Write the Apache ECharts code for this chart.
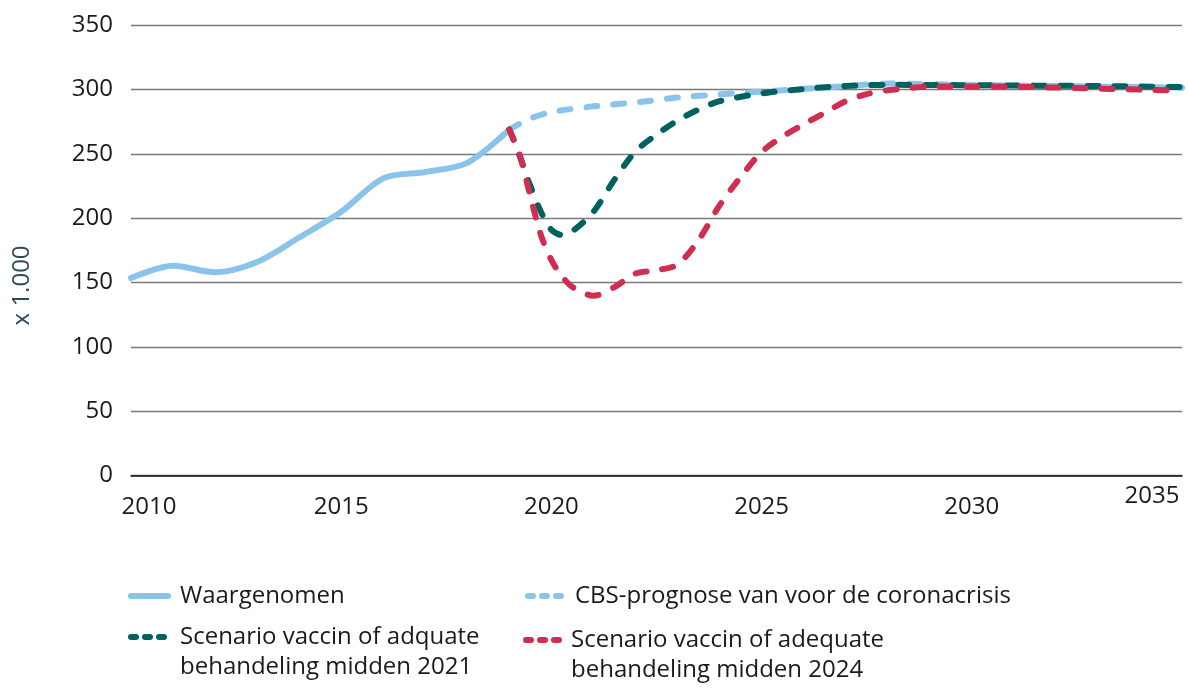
<!DOCTYPE html>
<html>
<head>
<meta charset="utf-8">
<script src="https://cdn.jsdelivr.net/npm/echarts@6/dist/echarts.min.js"></script>
<style>html,body{margin:0;padding:0;background:#fff;}#c{width:1188px;height:689px;}</style>
</head>
<body>
<div id="c"></div>
<script>
// ---- data ----
const observedYears = [2010, 2011, 2012, 2013, 2014, 2015, 2016, 2017, 2018, 2019];
const observedValues = [153.5, 163, 158, 166, 185, 205, 231, 236, 243, 269];

const cbsYears = [2019, 2019.5, 2020, 2021, 2022, 2023, 2024, 2025, 2026, 2027, 2028, 2029, 2030, 2031, 2032, 2033, 2034, 2035];
const cbsValues = [269, 277.5, 282.5, 287, 290, 293.8, 296.3, 298.5, 300.6, 302.7, 304.7, 304.3, 303.6, 303.2, 302.8, 302.4, 302, 301.5];

const scen2021Years = [2019, 2019.25, 2019.5, 2019.75, 2020, 2020.25, 2020.5, 2021, 2021.5, 2022, 2022.5, 2023, 2023.5, 2024, 2025, 2026, 2027, 2028, 2029, 2030, 2031, 2032, 2033, 2034, 2035];
const scen2021Values = [269, 248, 225, 205, 191, 187, 190, 205, 230, 252, 265, 276, 284.5, 291, 297, 300.5, 302.8, 303.7, 303.6, 303.4, 303.2, 303, 302.8, 302.4, 302];

const scen2024Years = [2019, 2019.25, 2019.5, 2019.75, 2020, 2020.25, 2020.5, 2021, 2021.5, 2022, 2022.5, 2023, 2023.5, 2024, 2024.5, 2025, 2025.5, 2026, 2026.5, 2027, 2027.5, 2028, 2029, 2030, 2031, 2032, 2033, 2034, 2035];
const scen2024Values = [269, 249, 217, 187, 167.5, 155, 146.5, 139.8, 146.5, 157, 159.5, 164, 183, 210, 232, 251.5, 263.5, 273, 282, 291, 296.5, 299.5, 302.3, 302.5, 302.2, 301.6, 300.8, 300, 299.3];

const seriesNames = [
  'Waargenomen',
  'CBS-prognose van voor de coronacrisis',
  'Scenario vaccin of adquate\nbehandeling midden 2021',
  'Scenario vaccin of adequate\nbehandeling midden 2024'
];
const yAxisName = 'x 1.000';

// ---- styling ----
const FONT = '"Open Sans", "Noto Sans", sans-serif';
const C_OBS = '#8ac4ea';
const C_TEAL = '#00625e';
const C_RED = '#d02e50';
const DASH = [11, 16];

const pairs = (xs, ys) => xs.map((x, i) => [x, ys[i]]);

const chart = echarts.init(document.getElementById('c'));

function legendFor(name, left, top, color, solid, padLeft, twoLine) {
  return {
    data: [name],
    left: left,
    top: top,
    padding: 0,
    orient: 'horizontal',
    itemWidth: solid ? 37 : 36,
    itemHeight: 14,
    selectedMode: false,
    formatter: twoLine ? function (n) { return ' \n' + n; } : undefined,
    lineStyle: solid ? { width: 6, type: 'solid', cap: 'round', color: color }
                     : { width: 6, type: [5, 9], cap: 'round', color: color },
    itemStyle: { opacity: 0 },
    textStyle: {
      fontFamily: FONT,
      fontSize: 24,
      color: '#1a1a1a',
      lineHeight: 30,
      padding: [0, 0, 0, padLeft]
    }
  };
}

const option = {
  animation: false,
  backgroundColor: '#fff',
  grid: { left: 131, right: 6, top: 25.3, bottom: 213.5, containLabel: false },
  xAxis: {
    type: 'value',
    min: 2010,
    max: 2035,
    interval: 5,
    axisLine: { show: true, lineStyle: { color: '#111', width: 1.5 } },
    axisTick: { show: false },
    splitLine: { show: false },
    axisLabel: {
      margin: 9,
      formatter: function (v) {
        if (v === 2010) return '{f|2010}';
        if (v === 2035) return '{l|2035}';
        return '{n|' + v + '}';
      },
      rich: {
        n: { fontFamily: FONT, fontSize: 24, color: '#1a1a1a', padding: [11, 0, 0, 0] },
        f: { fontFamily: FONT, fontSize: 24, color: '#1a1a1a', padding: [11, 0, 0, 36] },
        l: { fontFamily: FONT, fontSize: 24, color: '#1a1a1a', padding: [0, 60, 0, 0] }
      }
    }
  },
  yAxis: {
    type: 'value',
    min: 0,
    max: 350,
    interval: 50,
    name: yAxisName,
    nameLocation: 'middle',
    nameRotate: 90,
    nameGap: 97,
    nameTextStyle: { fontFamily: FONT, fontSize: 24, color: '#2c4a5c', padding: [0, 70, 0, 0] },
    axisLine: { show: false },
    axisTick: { show: false },
    axisLabel: { margin: 18, fontFamily: FONT, fontSize: 24, color: '#1a1a1a' },
    splitLine: { show: true, lineStyle: { color: '#7a7a7a', width: 1.3 } }
  },
  legend: [
    legendFor(seriesNames[0], 128, 581, C_OBS, true, 7, false),
    legendFor(seriesNames[1], 525, 581, C_OBS, false, 6, false),
    legendFor(seriesNames[2], 128, 592, C_TEAL, false, 8, true),
    legendFor(seriesNames[3], 523, 595, C_RED, false, 4, true)
  ],
  series: [
    {
      name: seriesNames[0], type: 'line', data: pairs(observedYears, observedValues),
      smooth: 0.3, symbol: 'none', z: 2,
      lineStyle: { color: C_OBS, width: 6, cap: 'round', join: 'round' },
      itemStyle: { color: C_OBS }
    },
    {
      name: seriesNames[1], type: 'line', data: pairs(cbsYears, cbsValues),
      smooth: 0.3, symbol: 'none', z: 3,
      lineStyle: { color: C_OBS, width: 6, type: DASH, cap: 'round', join: 'round' },
      itemStyle: { color: C_OBS }
    },
    {
      name: seriesNames[2], type: 'line', data: pairs(scen2021Years, scen2021Values),
      smooth: 0.3, symbol: 'none', z: 4,
      lineStyle: { color: C_TEAL, width: 6, type: DASH, cap: 'round', join: 'round' },
      itemStyle: { color: C_TEAL }
    },
    {
      name: seriesNames[3], type: 'line', data: pairs(scen2024Years, scen2024Values),
      smooth: 0.3, symbol: 'none', z: 5,
      lineStyle: { color: C_RED, width: 6, type: DASH, cap: 'round', join: 'round' },
      itemStyle: { color: C_RED }
    }
  ]
};
chart.setOption(option);
</script>
</body>
</html>
